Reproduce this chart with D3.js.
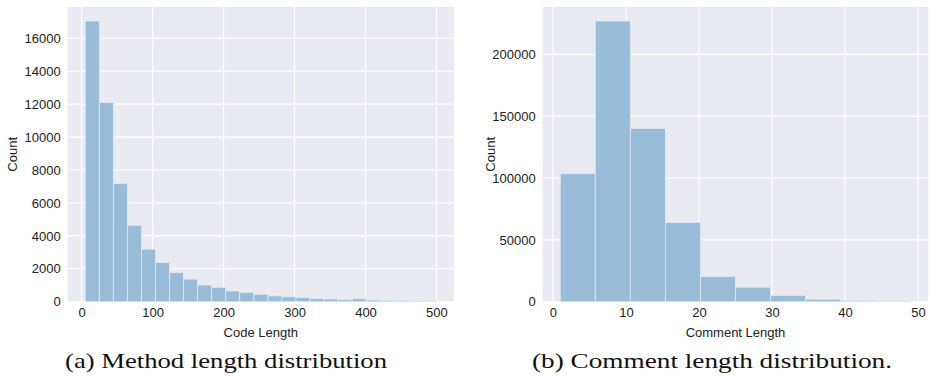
<!DOCTYPE html>
<html>
<head>
<meta charset="utf-8">
<script src="https://cdn.jsdelivr.net/npm/d3@7"></script>
<style>
  body { margin: 0; background: #fff; }
  svg text { font-family: "Liberation Sans", Arial, sans-serif; fill: #222; }
  .caption { font-family: "Liberation Serif", "DejaVu Serif", serif; fill: #111; }
</style>
</head>
<body>
<div id="chart"></div>
<script>
// method (code) length histogram: 25 bins between 5 and 500
const codeBinStart = 5;
const codeBinWidth = 19.8;
const codeCounts = [17050, 12100, 7170, 4640, 3190, 2380, 1770, 1370, 1010, 870,
                    650, 550, 450, 350, 290, 245, 200, 165, 120, 180,
                    100, 80, 80, 40, 20];
const codeTicksX = [0, 100, 200, 300, 400, 500];
const codeTicksY = [0, 2000, 4000, 6000, 8000, 10000, 12000, 14000, 16000];

// comment length histogram: 10 bins between 1 and 49
const commentBinStart = 1;
const commentBinWidth = 4.8;
const commentCounts = [103500, 227000, 140000, 64000, 20200, 11700, 4900, 1900, 800, 100];
const commentTicksX = [0, 10, 20, 30, 40, 50];
const commentTicksY = [0, 50000, 100000, 150000, 200000];

const width = 933, height = 376;

const svg = d3.select("#chart").append("svg")
  .attr("width", width)
  .attr("height", height);

function drawHist(opts) {
  let bins = opts.counts.map((c, i) => ({
    x0: opts.binStart + i * opts.binWidth,
    x1: opts.binStart + (i + 1) * opts.binWidth,
    count: c
  }));
  let lo = bins[0].x0, hi = bins[bins.length - 1].x1;
  let pad = (hi - lo) * 0.05;
  let maxC = d3.max(opts.counts);

  let x = d3.scaleLinear().domain([lo - pad, hi + pad]).range([opts.left, opts.right]);
  let y = d3.scaleLinear().domain([0, maxC * 1.05]).range([opts.bottom, opts.top]);

  let g = svg.append("g");

  // background
  g.append("rect")
    .attr("x", opts.left).attr("y", opts.top)
    .attr("width", opts.right - opts.left)
    .attr("height", opts.bottom - opts.top)
    .attr("fill", "#eaeaf2");

  // grid
  g.selectAll(".gx").data(opts.ticksX).enter().append("line")
    .attr("x1", d => x(d)).attr("x2", d => x(d))
    .attr("y1", opts.top).attr("y2", opts.bottom)
    .attr("stroke", "#fff").attr("stroke-width", 1.1);
  g.selectAll(".gy").data(opts.ticksY).enter().append("line")
    .attr("x1", opts.left).attr("x2", opts.right)
    .attr("y1", d => y(d)).attr("y2", d => y(d))
    .attr("stroke", "#fff").attr("stroke-width", 1.1);

  // bars
  g.selectAll(".bar").data(bins).enter().append("rect")
    .attr("x", d => x(d.x0))
    .attr("y", d => y(d.count))
    .attr("width", d => x(d.x1) - x(d.x0))
    .attr("height", d => y(0) - y(d.count))
    .attr("fill", "#99bcd9")
    .attr("stroke", "#dfe8f2")
    .attr("stroke-width", 0.8);

  // x axis
  let xAxis = d3.axisBottom(x).tickValues(opts.ticksX).tickFormat(d3.format("d")).tickSize(0).tickPadding(0);
  let xg = g.append("g").attr("transform", `translate(0,${opts.bottom})`).call(xAxis);
  xg.select(".domain").remove();
  xg.selectAll("text")
    .attr("dy", null).attr("y", 15)
    .style("font-size", "13px").style("font-family", "Liberation Sans, Arial, sans-serif")
    .attr("fill", "#222");

  // y axis
  let yAxis = d3.axisLeft(y).tickValues(opts.ticksY).tickFormat(d3.format("d")).tickSize(0).tickPadding(0);
  let yg = g.append("g").attr("transform", `translate(${opts.left - 7},0)`).call(yAxis);
  yg.select(".domain").remove();
  yg.selectAll("text")
    .style("font-size", "13px").style("font-family", "Liberation Sans, Arial, sans-serif")
    .attr("fill", "#222");

  // axis labels
  g.append("text")
    .attr("x", (opts.left + opts.right) / 2)
    .attr("y", opts.bottom + 35)
    .attr("text-anchor", "middle")
    .style("font-size", "13px")
    .text(opts.xLabel);

  g.append("text")
    .attr("transform", `translate(${opts.yLabelX},${(opts.top + opts.bottom) / 2}) rotate(-90)`)
    .attr("text-anchor", "middle")
    .style("font-size", "13px")
    .text("Count");

  // caption
  g.append("text")
    .attr("class", "caption")
    .attr("x", opts.capX)
    .attr("y", 368)
    .attr("text-anchor", "middle")
    .attr("textLength", opts.capW)
    .attr("lengthAdjust", "spacingAndGlyphs")
    .style("font-size", "22px")
    .text(opts.caption);
}

drawHist({
  counts: codeCounts, binStart: codeBinStart, binWidth: codeBinWidth,
  ticksX: codeTicksX, ticksY: codeTicksY,
  left: 67.7, right: 454, top: 7, bottom: 301.7,
  xLabel: "Code Length", yLabelX: 17,
  caption: "(a) Method length distribution", capX: 226, capW: 322
});

drawHist({
  counts: commentCounts, binStart: commentBinStart, binWidth: commentBinWidth,
  ticksX: commentTicksX, ticksY: commentTicksY,
  left: 542.7, right: 928.3, top: 7, bottom: 301.7,
  xLabel: "Comment Length", yLabelX: 495,
  caption: "(b) Comment length distribution.", capX: 712, capW: 360
});
</script>
</body>
</html>
